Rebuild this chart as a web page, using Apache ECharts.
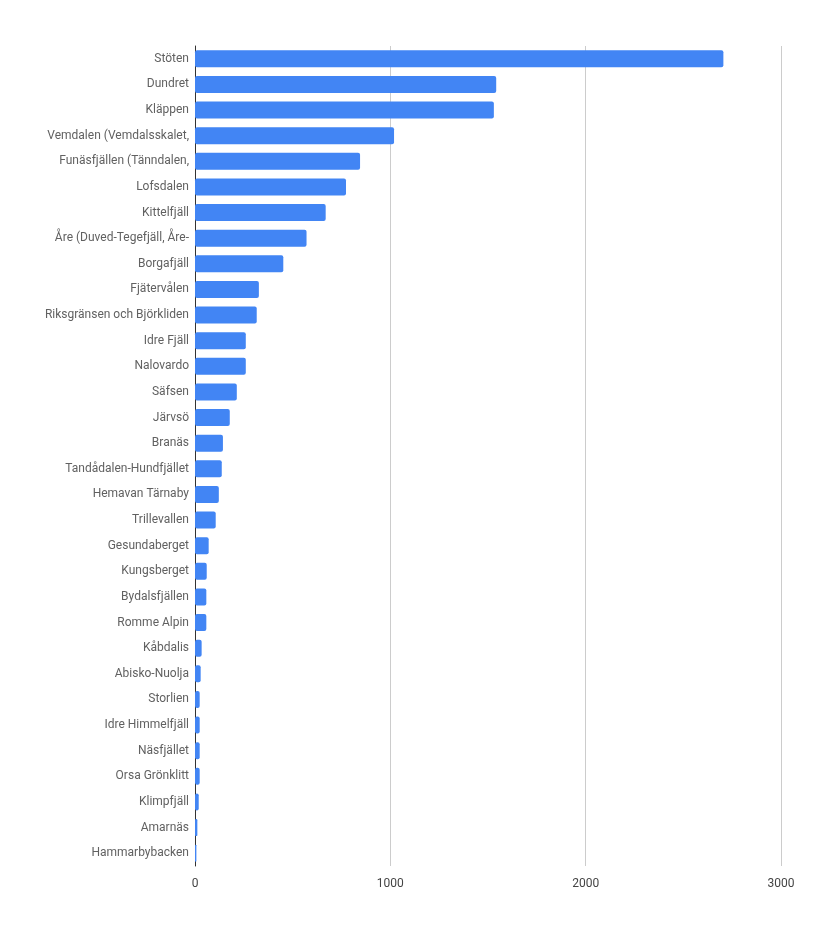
<!DOCTYPE html>
<html>
<head>
<meta charset="utf-8">
<script src="https://cdn.jsdelivr.net/npm/echarts@6/dist/echarts.min.js"></script>
<style>
html, body { margin: 0; padding: 0; background: #fff; }
#chart { width: 822px; height: 932px; }
</style>
</head>
<body>
<div id="chart"></div>
<script>
// skidorter, uppifrån och ned
var resorts = ['Stöten', 'Dundret', 'Kläppen', 'Vemdalen (Vemdalsskalet,', 'Funäsfjällen (Tänndalen,',
	'Lofsdalen', 'Kittelfjäll', 'Åre (Duved-Tegefjäll, Åre-', 'Borgafjäll', 'Fjätervålen',
	'Riksgränsen och Björkliden', 'Idre Fjäll', 'Nalovardo', 'Säfsen', 'Järvsö', 'Branäs',
	'Tandådalen-Hundfjället', 'Hemavan Tärnaby', 'Trillevallen', 'Gesundaberget', 'Kungsberget',
	'Bydalsfjällen', 'Romme Alpin', 'Kåbdalis', 'Abisko-Nuolja', 'Storlien', 'Idre Himmelfjäll',
	'Näsfjället', 'Orsa Grönklitt', 'Klimpfjäll', 'Amarnäs', 'Hammarbybacken'];
// värden
var values = [2705, 1542, 1530, 1019, 845, 773, 669, 571, 452, 327, 316, 260, 260, 214, 178, 143,
	137, 122, 106, 70, 60, 58, 58, 34, 29, 24, 24, 24, 24, 19, 12, 7];
var xTicks = [0, 1000, 2000, 3000];

var myChart = echarts.init(document.getElementById('chart'));
myChart.setOption({
	backgroundColor: '#ffffff',
	animation: false,
	grid: { left: 195, right: 41, top: 46, bottom: 66, containLabel: false },
	xAxis: {
		type: 'value',
		min: xTicks[0],
		max: xTicks[xTicks.length - 1],
		interval: 1000,
		axisLine: { show: false },
		axisTick: { show: false },
		splitLine: { show: true, lineStyle: { color: '#cccccc', width: 1 } },
		axisLabel: {
			color: '#444444', fontFamily: 'Roboto', fontSize: 12, margin: 12,
			formatter: function(v) { return String(v); }
		}
	},
	yAxis: {
		type: 'category',
		data: resorts,
		inverse: true,
		axisLine: { show: true, lineStyle: { color: '#333333', width: 1 } },
		axisTick: { show: false },
		axisLabel: { color: '#616161', fontFamily: 'Roboto', fontSize: 12, margin: 6 }
	},
	series: [{
		type: 'bar',
		data: values,
		barWidth: 17,
		itemStyle: { color: '#4285f4', borderRadius: 2 }
	}]
});
</script>
</body>
</html>
